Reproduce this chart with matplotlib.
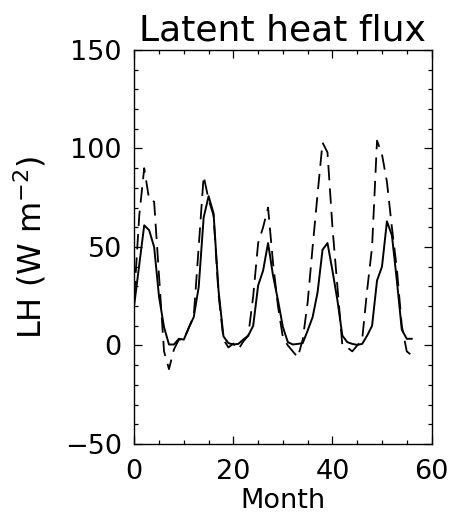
import numpy as np
import matplotlib
matplotlib.use("Agg")
import matplotlib.pyplot as plt
from matplotlib.ticker import MultipleLocator

# monthly latent heat flux (W m-2)
month = list(range(57))
lh_solid = [21, 41, 61, 58.5, 50, 24.6, 9.3, 0.5, 0.5, 3.4,
            3, 9, 14.4, 29.7, 65, 75.8, 67, 28, 4.6, 1.2,
            0.5, 0.8, 3, 5, 10, 30.5, 38, 52, 35.6, 23,
            9.3, 1.7, 0.5, 0.8, 1.2, 7.6, 14.4, 27, 48.6, 52,
            38, 23, 5, 1.7, 0.8, 0.3, 0.8, 5, 10, 33,
            40, 63, 56, 33, 8, 3.4, 3.4]
lh_dashed = [25, 66, 90, 74, 73, 35, -3, -12, -2, 3,
             3, 9, 15, 50, 86, 74, 66, 26, 3, -1,
             1, -2, 2, 5, 25, 52, 60, 70, 42, 20,
             4, 0, -3, -6, 3, 22, 50, 77, 103, 98,
             60, 30, 0, -1, -3, 0, 3, 28, 50, 104,
             97, 83, 60, 39, 10, -3, -5]

fig = plt.figure(figsize=(4.51, 5.18), dpi=100)
ax = fig.add_axes([0.2978, 0.1429, 0.659, 0.7606])

ax.plot(month, lh_solid, color="black", lw=1.4)
ax.plot(month, lh_dashed, color="black", lw=1.3, linestyle=(0, (8.5, 4.5)))

ax.set_xlim(0, 60)
ax.set_ylim(-50, 150)
ax.xaxis.set_major_locator(MultipleLocator(20))
ax.xaxis.set_minor_locator(MultipleLocator(5))
ax.yaxis.set_major_locator(MultipleLocator(50))
ax.yaxis.set_minor_locator(MultipleLocator(10))
ax.tick_params(which="both", direction="in", top=True, right=True,
               labelsize=19.5, width=0.9)
ax.tick_params(axis="x", pad=11)
ax.tick_params(axis="y", pad=9)
ax.tick_params(which="major", length=6)
ax.tick_params(which="minor", length=3)
ax.set_yticks([-50, 0, 50, 100, 150])
ax.set_yticklabels(["\u221250", "0", "50", "100", "150"])
for s in ax.spines.values():
    s.set_linewidth(1.0)

ax.set_title("Latent heat flux", fontsize=26, pad=7)
ax.set_xlabel("Month", fontsize=19.5, labelpad=2)
ax.set_ylabel("LH (W m$^{-2}$)", fontsize=23, labelpad=12)

fig.savefig("out.png", dpi=100)
